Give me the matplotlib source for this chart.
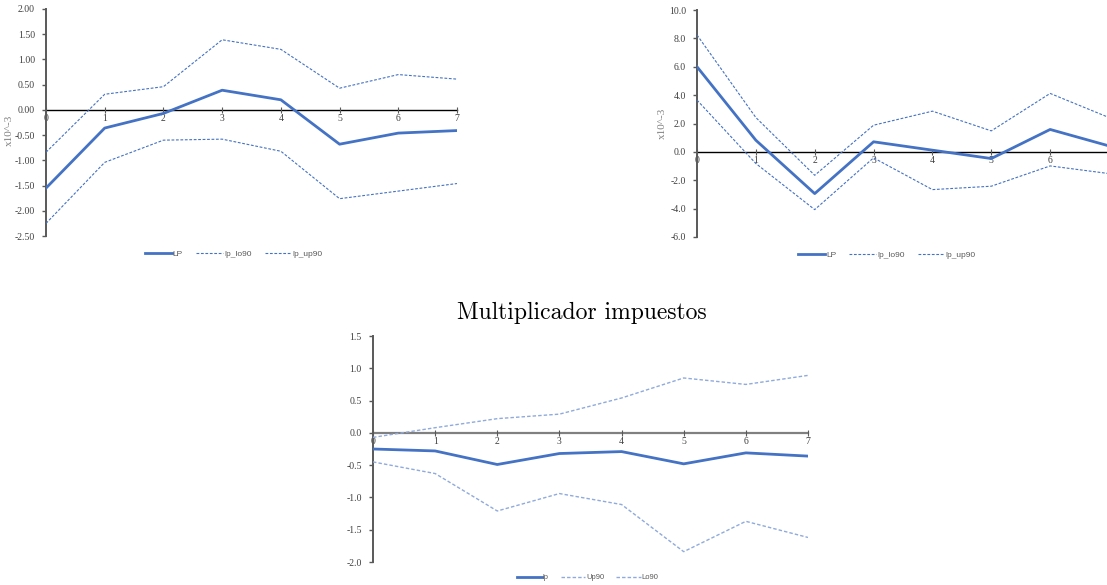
from __future__ import annotations

import matplotlib
matplotlib.use("Agg")
import matplotlib.pyplot as plt

HORIZON = [0, 1, 2, 3, 4, 5, 6, 7]

# panel izquierdo (x10^-3)
LEFT_LP = [-1.55, -0.36, -0.07, 0.39, 0.20, -0.68, -0.46, -0.41]
LEFT_LO90 = [-2.25, -1.04, -0.60, -0.58, -0.82, -1.76, -1.61, -1.46]
LEFT_UP90 = [-0.84, 0.31, 0.46, 1.39, 1.20, 0.43, 0.70, 0.61]
LEFT_YTICKS = [2.0, 1.5, 1.0, 0.5, 0.0, -0.5, -1.0, -1.5, -2.0, -2.5]

# panel derecho (x10^-3)
RIGHT_LP = [6.0, 0.82, -2.94, 0.71, 0.12, -0.47, 1.58, 0.42]
RIGHT_LO90 = [3.65, -0.82, -4.07, -0.42, -2.66, -2.42, -0.99, -1.53]
RIGHT_UP90 = [8.24, 2.42, -1.65, 1.88, 2.87, 1.48, 4.12, 2.42]
RIGHT_YTICKS = [10.0, 8.0, 6.0, 4.0, 2.0, 0.0, -2.0, -4.0, -6.0]

# multiplicador impuestos
TAX_LP = [-0.25, -0.28, -0.49, -0.32, -0.29, -0.48, -0.31, -0.36]
TAX_UP90 = [-0.07, 0.08, 0.22, 0.29, 0.54, 0.85, 0.75, 0.89]
TAX_LO90 = [-0.45, -0.63, -1.21, -0.94, -1.11, -1.84, -1.37, -1.62]
TAX_YTICKS = [1.5, 1.0, 0.5, 0.0, -0.5, -1.0, -1.5, -2.0]

BLUE = "#4472C4"
LIGHT = "#8FAADC"
TICK_FONT = {"family": "Liberation Serif", "size": 7, "color": "#404040"}


def style_axis(ax, yticks, fmt, zero_color="black", zero_lw=1.0):
    ax.set_xlim(0, 7)
    ax.set_ylim(min(yticks), max(yticks))
    for side in ["top", "right"]:
        ax.spines[side].set_visible(False)
    ax.spines["left"].set_color("#595959")
    ax.spines["left"].set_linewidth(1.4)
    ax.spines["bottom"].set_position(("data", 0))
    ax.spines["bottom"].set_color(zero_color)
    ax.spines["bottom"].set_linewidth(zero_lw)
    ax.spines["bottom"].set_zorder(1)

    ax.set_yticks(yticks)
    ax.set_yticklabels([fmt.format(v) for v in yticks], fontdict=TICK_FONT)
    ax.set_xticks(HORIZON)
    ax.set_xticklabels([str(h) for h in HORIZON], fontdict=TICK_FONT)
    ax.tick_params(axis="y", direction="out", length=3, width=1, color="#595959", pad=5)
    ax.tick_params(axis="x", direction="inout", length=4, width=0.8, color="#595959", pad=1)


def add_legend(ax, x, y, fontsize=6):
    leg = ax.legend(loc="center", bbox_to_anchor=(x, y), ncol=3, frameon=False,
                    handlelength=3.2, handletextpad=0.1, columnspacing=1.6,
                    prop={"family": "Liberation Sans", "size": fontsize})
    for t in leg.get_texts():
        t.set_color("#595959")
    return leg


def draw_top(ax, lp, lo, up, yticks, fmt, leg_x, label_xy):
    ax.plot(HORIZON, lp, color=BLUE, lw=2.0, label="LP", zorder=3)
    ax.plot(HORIZON, lo, color=BLUE, lw=0.8, ls=(0, (2.5, 1.5)), label="lp_lo90", zorder=3)
    ax.plot(HORIZON, up, color=BLUE, lw=0.8, ls=(0, (2.5, 1.5)), label="lp_up90", zorder=3)
    style_axis(ax, yticks, fmt)
    ax.set_ylabel("x10^-3", fontdict={"family": "Liberation Serif", "size": 8, "color": "#7f7f7f"})
    ax.yaxis.set_label_coords(*label_xy)
    add_legend(ax, leg_x, -0.08)


def main():
    fig = plt.figure(figsize=(11.07, 5.85), dpi=100)

    ax1 = fig.add_axes([46 / 1107, 1 - 236 / 585, 411 / 1107, 227 / 585])
    draw_top(ax1, LEFT_LP, LEFT_LO90, LEFT_UP90, LEFT_YTICKS, "{:.2f}", 0.457, (-0.078, 0.467))

    ax2 = fig.add_axes([697 / 1107, 1 - 237 / 585, 412 / 1107, 227 / 585])
    draw_top(ax2, RIGHT_LP, RIGHT_LO90, RIGHT_UP90, RIGHT_YTICKS, "{:.1f}", 0.461, (-0.073, 0.50))

    ax3 = fig.add_axes([373 / 1107, 1 - 562 / 585, 435 / 1107, 226 / 585])
    ax3.plot(HORIZON, TAX_LP, color=BLUE, lw=2.0, label="lp", zorder=3)
    ax3.plot(HORIZON, TAX_UP90, color=LIGHT, lw=1.0, ls=(0, (2.5, 1.5)), label="Up90", zorder=3)
    ax3.plot(HORIZON, TAX_LO90, color=LIGHT, lw=1.0, ls=(0, (2.5, 1.5)), label="Lo90", zorder=3)
    style_axis(ax3, TAX_YTICKS, "{:.1f}", zero_color="#808080", zero_lw=1.6)
    add_legend(ax3, 0.494, -0.07, fontsize=5.5)

    fig.text(582 / 1107, 1 - 313 / 585, "Multiplicador impuestos", family="cmr10",
             fontsize=17, ha="center", va="center")

    fig.savefig("out.png", dpi=100)
    plt.close(fig)


if __name__ == "__main__":
    main()
